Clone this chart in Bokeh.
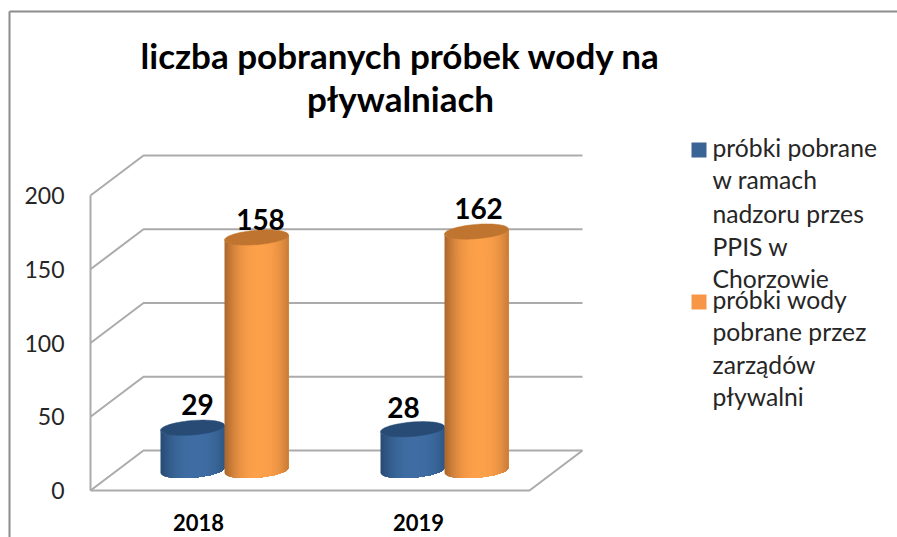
from bokeh.plotting import figure
from bokeh.embed import file_html
from bokeh.resources import INLINE
from bokeh.core.properties import value
import numpy as np

categories = ["2018", "2019"]
series_nadzor = [29, 28]
series_zarzady = [158, 162]
y_ticks = [0, 50, 100, 150, 200]
title_lines = ["liczba pobranych próbek wody na", "pływalniach"]
legend_a = ["próbki pobrane", "w ramach", "nadzoru przes", "PPIS w", "Chorzowie"]
legend_b = ["próbki wody", "pobrane przez", "zarządów", "pływalni"]

W, H = 897, 537
ORG_X, ORG_Y = 0, 0
PX_X0 = 200.0   # page px of category index 0 on the front edge
PX_PER_CAT = 220.0
PX_Y0 = 490.0   # page px of value 0 on the front edge
PX_PER_VAL = 1.475

def X(px):
    return (px - PX_X0) / PX_PER_CAT

def Y(py):
    return (PX_Y0 - py) / PX_PER_VAL

p = figure(width=W, height=H, output_backend="svg", toolbar_location=None,
           x_range=(X(ORG_X), X(ORG_X + W)), y_range=(Y(ORG_Y + H), Y(ORG_Y)),
           min_border=0, min_border_left=0, min_border_right=0, min_border_top=0, min_border_bottom=0)
p.axis.visible = False
p.grid.visible = False
p.outline_line_color = None
FONT = value("Lato")

# page frame
FRAME = "#8C8C8C"
p.line([X(9), X(9)], [Y(11), Y(ORG_Y + H)], line_color=FRAME, line_width=2)
p.line([X(9), X(ORG_X + W)], [Y(11), Y(11)], line_color=FRAME, line_width=2)

# 3D box
GRID = "#ABABAB"
DX = 53 / PX_PER_CAT
DZ = 40 / PX_PER_VAL
left, right = X(90), X(529)
for t in y_ticks:
    p.line([left, left + DX, right + DX], [t, t + DZ, t + DZ], line_color=GRID, line_width=2)
p.line([left, left], [0, 200], line_color=GRID, line_width=2)
p.line([left, right, right + DX], [0, 0, DZ], line_color=GRID, line_width=2)


def hexmix(a, b, t):
    ca = np.array([int(a[i:i + 2], 16) for i in (1, 3, 5)], float)
    cb = np.array([int(b[i:i + 2], 16) for i in (1, 3, 5)], float)
    c = ca + (cb - ca) * t
    return "#%02x%02x%02x" % tuple(int(round(v)) for v in c)


HALF = 32 / PX_PER_CAT
TILT = 2.5 / PX_PER_VAL
SEMI = 7.2 / PX_PER_VAL
NSTRIP = 32


def cylinder(xc, v, dark, light, cap):
    base = DZ / 2
    edges = np.linspace(-1, 1, NSTRIP + 1)
    fine = np.linspace(-1, 1, 81)
    xs, ys, cols = [], [], []
    for u0, um in zip(edges[:-1], (edges[:-1] + edges[1:]) / 2):
        us = np.concatenate(([u0], fine[fine > u0]))
        front = TILT * us - SEMI * np.sqrt(np.clip(1 - us ** 2, 0, 1))
        xx = xc + HALF * us
        xs.append(np.concatenate((xx, xx[::-1])))
        ys.append(np.concatenate((base + front, (base + v + front)[::-1])))
        t = 1 - (abs(um - 0.1) / 1.1) ** 2.4
        cols.append(hexmix(dark, light, t))
    p.patches(xs, ys, fill_color=cols, line_color=None)
    th = np.linspace(0, 2 * np.pi, 80)
    cu = np.cos(th)
    p.patch(xc + HALF * cu, base + v + TILT * cu + SEMI * np.sin(th),
            fill_color=cap, line_color=cap, line_width=0.5)


D_X = 26.5 / PX_PER_CAT
for i in range(len(categories)):
    cylinder(i - HALF + D_X - 2.5 / PX_PER_CAT, series_nadzor[i], "#264A72", "#3F6DA3", "#274B75")
for i in range(len(categories)):
    cylinder(i + HALF + D_X - 2.5 / PX_PER_CAT, series_zarzady[i], "#A8652C", "#FDA04A", "#BF752F")

# value labels
label_x = [197, 403, 260, 478]
label_v = series_nadzor + series_zarzady
label_dy = [23, 22, 17.5, 23]
label_y = [v + DZ / 2 + d / PX_PER_VAL for v, d in zip(label_v, label_dy)]
p.text([X(x) for x in label_x], label_y, text=[str(v) for v in label_v], text_font=FONT,
       text_font_size="28px", text_font_style="bold", text_color="#000000",
       text_align="center", text_baseline="middle")

# y tick labels
p.text([X(64)] * len(y_ticks), [t for t in y_ticks], text=[str(t) for t in y_ticks], text_font=FONT,
       text_font_size="23px", text_color="#262626", text_align="right", text_baseline="middle")

# category labels
p.text([i - 2 / PX_PER_CAT for i in range(len(categories))], [Y(522)] * len(categories), text=categories,
       text_font=FONT, text_font_size="22px", text_font_style="bold", text_color="#000000",
       text_align="center", text_baseline="middle")

# title
p.text([X(400)] * 2, [Y(54), Y(97)], text=title_lines, text_font=FONT, text_font_size="35px",
       text_font_style="bold", text_color="#000000", text_align="center", text_baseline="middle")

# legend
p.scatter([X(698.5)], [Y(149.5)], marker="square", size=15, fill_color="#3A6396", line_color=None)
p.scatter([X(698.5)], [Y(301.5)], marker="square", size=15, fill_color="#F79646", line_color=None)
p.text([X(712)] * len(legend_a), [Y(y) for y in (147, 179, 213, 246, 278)], text=legend_a, text_font=FONT,
       text_font_size="24.7px", text_color="#262626", text_align="left", text_baseline="middle")
p.quad(left=[X(708)], right=[X(885)], bottom=[Y(293)], top=[Y(288.5)], fill_color="white", line_color=None)
p.text([X(712)] * len(legend_b), [Y(y) for y in (299, 331, 364, 396)], text=legend_b, text_font=FONT,
       text_font_size="24.7px", text_color="#262626", text_align="left", text_baseline="middle")

open("out.html", "w").write(file_html(p, INLINE))
